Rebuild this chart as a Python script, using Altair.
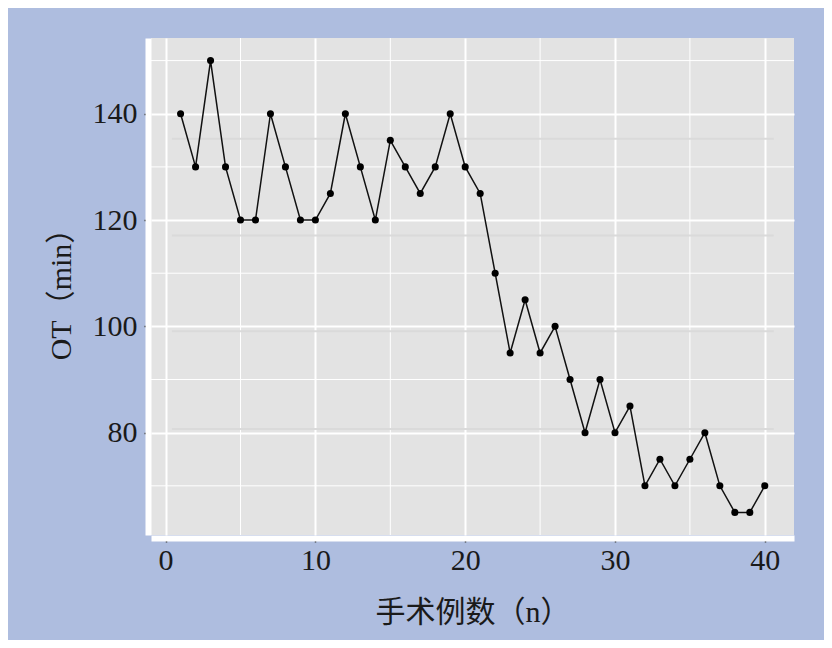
import altair as alt
import pandas as pd

# Data
cases = list(range(1, 41))
ot_min = [140, 130, 150, 130, 120, 120, 140, 130, 120, 120,
          125, 140, 130, 120, 135, 130, 125, 130, 140, 130,
          125, 110, 95, 105, 95, 100, 90, 80, 90, 80,
          85, 70, 75, 70, 75, 80, 70, 65, 65, 70]

x_major = [0, 10, 20, 30, 40]
y_major = [80, 100, 120, 140]
x_minor = [5, 15, 25, 35]
y_minor = [70, 90, 110, 130, 150]

# faint horizontal streaks visible in the panel
faint_y = [135.3, 117.1, 99.1, 80.7]
faint_x_start = 0.42
faint_x_end = 40.6

x_domain = [-0.975, 41.95]
y_domain = [60.75, 154.25]

FONT = "Liberation Serif, Noto Sans CJK SC"
BG = "#aebddf"
PANEL = "#e3e3e3"

df = pd.DataFrame({"n": cases, "ot": ot_min})
df_xminor = pd.DataFrame({"x": x_minor})
df_yminor = pd.DataFrame({"y": y_minor})
df_faint = pd.DataFrame({"y": faint_y, "x1": [faint_x_start] * len(faint_y),
                         "x2": [faint_x_end] * len(faint_y)})

xscale = alt.Scale(domain=x_domain, nice=False, zero=False)
yscale = alt.Scale(domain=y_domain, nice=False, zero=False)

xaxis = alt.Axis(values=x_major, title="手术例数（n）", grid=True, gridColor="white",
                 gridWidth=2, domain=True, domainColor="white", domainWidth=6, offset=3,
                 tickColor="#333333", tickWidth=1.5, tickSize=4,
                 labelFont=FONT, labelFontSize=30, labelColor="#1a1a1a", labelPadding=3,
                 titleFont=FONT, titleFontSize=30, titleFontWeight="normal",
                 titleColor="#1a1a1a", titlePadding=22)
yaxis = alt.Axis(values=y_major, title="OT（min）", grid=True, gridColor="white",
                 gridWidth=2, domain=True, domainColor="white", domainWidth=6, offset=3,
                 tickColor="#333333", tickWidth=1.5, tickSize=4,
                 labelFont=FONT, labelFontSize=30, labelColor="#1a1a1a", labelPadding=7,
                 titleFont=FONT, titleFontSize=30, titleFontWeight="normal",
                 titleColor="#1a1a1a", titlePadding=16)

minor_x = alt.Chart(df_xminor).mark_rule(color="white", strokeWidth=1).encode(
    x=alt.X("x:Q", scale=xscale, axis=xaxis))
minor_y = alt.Chart(df_yminor).mark_rule(color="white", strokeWidth=1).encode(
    y=alt.Y("y:Q", scale=yscale, axis=yaxis))
faint = alt.Chart(df_faint).mark_rule(color="#dadada", strokeWidth=2).encode(
    x=alt.X("x1:Q", scale=xscale, axis=xaxis), x2="x2:Q",
    y=alt.Y("y:Q", scale=yscale, axis=yaxis))

line = alt.Chart(df).mark_line(color="#111111", strokeWidth=1.5).encode(
    x=alt.X("n:Q", scale=xscale, axis=xaxis),
    y=alt.Y("ot:Q", scale=yscale, axis=yaxis))
pts = alt.Chart(df).mark_point(filled=True, color="black", size=50, opacity=1).encode(
    x=alt.X("n:Q", scale=xscale, axis=xaxis),
    y=alt.Y("ot:Q", scale=yscale, axis=yaxis))

chart = alt.layer(minor_x, minor_y, faint, line, pts).properties(
    width=643, height=497,
    background=BG,
    padding={"left": 143, "top": 30, "right": 30, "bottom": 105},
    autosize=alt.AutoSizeParams(type="none"),
).configure_view(fill=PANEL, stroke=None)

chart.save("out.html", embed_options={"renderer": "svg", "actions": False})
